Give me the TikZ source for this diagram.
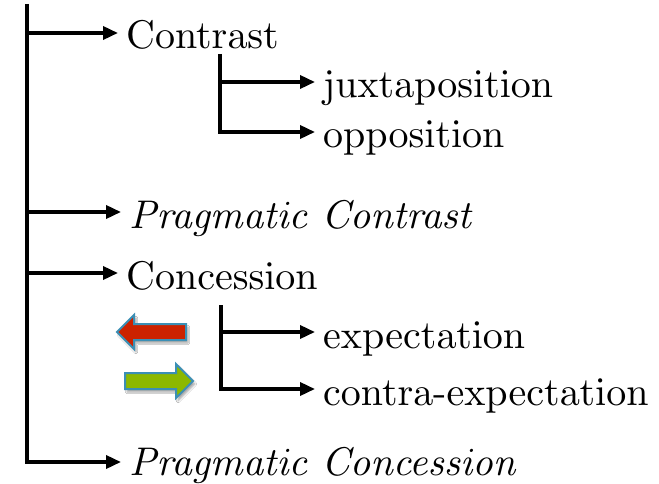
\documentclass[tikz,border=0pt]{standalone}
\usetikzlibrary{arrows.meta,shadows.blur}
\font\myrm=cmr10 at 40pt
\font\myit=cmti10 at 40pt
\begin{document}
\begin{tikzpicture}[x=1pt,y=-1pt,
  line/.style={line width=3.5pt},
  arr/.style={line width=3.5pt,-{Triangle[length=15pt,width=13pt]},shorten >=8pt},
  lbl/.style={anchor=base west,inner sep=0pt,font=\myrm},
  ilbl/.style={anchor=base west,inner sep=0pt,font=\myit},
  blk/.style={draw={rgb,255:red,59;green,143;blue,181},line width=2pt,line join=miter,
              blur shadow={shadow xshift=2pt,shadow yshift=-3pt,shadow blur steps=6,shadow opacity=35}}]
\useasboundingbox (0,0) rectangle (659,484);
\fill[white] (0,0) rectangle (659,484);

% level-one labels
\node[lbl]  (contrast)   at (126,49)  {Contrast};
\node[ilbl] (pcontrast)  at (129,228) {Pragmatic Contrast};
\node[lbl]  (concession) at (126,289) {Concession};
\node[ilbl] (pconcession) at (129,475) {Pragmatic Concession};

% level-two labels
\node[lbl] (juxt) at (323,98)  {juxtaposition};
\node[lbl] (oppo) at (323,148) {opposition};
\node[lbl] (expe) at (323,348) {expectation};
\node[lbl] (cexp) at (323,405) {contra-expectation};

% trunk
\coordinate (top) at (27,4);
\coordinate (t1) at (27,33);
\coordinate (t2) at (27,212);
\coordinate (t3) at (27,273);
\coordinate (t4) at (27,462);
\draw[line] (top) -- ([yshift=-1.75pt]t4);
\draw[arr] ([xshift=-1.75pt]t1) -- (t1 -| contrast.west);
\draw[arr] ([xshift=-1.75pt]t2) -- (t2 -| pcontrast.west);
\draw[arr] ([xshift=-1.75pt]t3) -- (t3 -| concession.west);
\draw[arr] ([xshift=-1.75pt]t4) -- (t4 -| pconcession.west);

% Contrast subtree
\coordinate (s1top) at (220,54);
\coordinate (s1a) at (220,82);
\coordinate (s1b) at (220,132);
\draw[line] (s1top) -- ([yshift=-1.75pt]s1b);
\draw[arr] ([xshift=-1.75pt]s1a) -- (s1a -| juxt.west);
\draw[arr] ([xshift=-1.75pt]s1b) -- (s1b -| oppo.west);

% Concession subtree
\coordinate (s2top) at (221,305);
\coordinate (s2a) at (221,332);
\coordinate (s2b) at (221,389);
\draw[line] (s2top) -- ([yshift=-1.75pt]s2b);
\draw[arr] ([xshift=-1.75pt]s2a) -- (s2a -| expe.west);
\draw[arr] ([xshift=-1.75pt]s2b) -- (s2b -| cexp.west);

% block arrows
\draw[blk,fill={rgb,255:red,204;green,34;blue,0}]
  (117,332) -- (134,315) -- (134,324) -- (186,324) -- (186,340) -- (134,340) -- (134,349) -- cycle;
\draw[blk,fill={rgb,255:red,140;green,184;blue,0}]
  (193,381) -- (176,364) -- (176,373) -- (125,373) -- (125,389) -- (176,389) -- (176,398) -- cycle;
\end{tikzpicture}
\end{document}
